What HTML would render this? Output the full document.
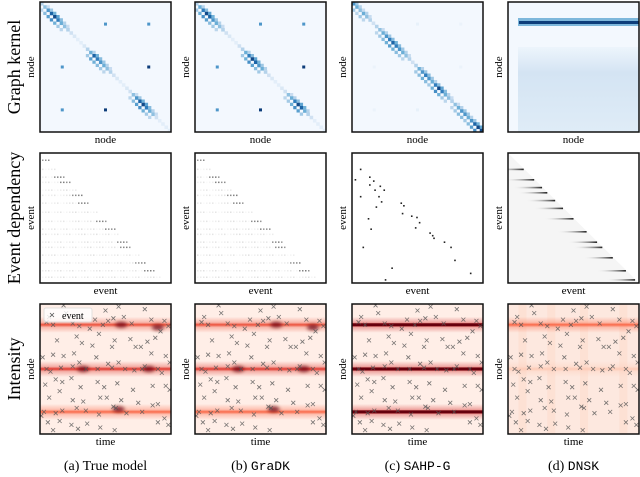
<!DOCTYPE html>
<html><head><meta charset="utf-8">
<style>
body{margin:0;background:#fff;width:640px;height:477px;overflow:hidden;font-family:"Liberation Serif",serif;}
svg{position:absolute;left:0;top:0}
</style></head>
<body>
<svg id="fig" width="640" height="477"></svg>
<script>
const colX=[40,195,352,508], rowY=[2,153,304], W=131, H=130;
const rowLabels=["Graph kernel","Event dependency","Intensity"];
const captions=[["(a) ","True model",false],["(b) ","GraDK",true],["(c) ","SAHP-G",true],["(d) ","DNSK",true]];
const diagTrue=[.3,.4,.6,.8,.9,.7,.5,.4,.3,.2,.15,.1,.1,.15,.3,.5,.8,.7,.6,.5,.4,.3,.2,.15,.1,.1,.15,.2,.4,.6,.8,.9,.7,.5,.4,.2,.1,.1,.1,.1];
const diagGradk=[.3,.5,.7,.9,.8,.6,.5,.4,.3,.2,.15,.1,.1,.2,.3,.5,.7,.9,.8,.6,.5,.3,.2,.15,.1,.1,.15,.2,.4,.5,.7,.9,.8,.5,.3,.2,.1,.1,.1,.1];
const diagSahp=[.6,.5,.4,.5,.4,.3,.2,.3,.4,.5,.6,.7,.8,.7,.6,.5,.4,.3,.2,.3,.5,.6,.7,.6,.5,.7,.9,.7,.5,.4,.3,.4,.5,.6,.6,.5,.6,.8,.9,.9];
const offDots=[[.17,.17],[.5,.17],[.83,.17],[.17,.5],[.5,.5],[.83,.5],[.17,.83],[.5,.83],[.83,.83]];
const offTrue=[0,.6,.6,.6,0,.95,.6,.95,0];
const offSahp=[0,.08,.06,.06,0,.06,.06,.08,0];
const depRows=[.05,.12,.18,.22,.28,.32,.38,.45,.52,.58,.62,.68,.72,.78,.84,.9,.95];
const depSahpPts=[[.06,.12],[.02,.2],[.13,.18],[.16,.21],[.21,.25],[.13,.24],[.17,.28],[.24,.28],[.06,.33],[.2,.33],[.22,.37],[.37,.38],[.39,.4],[.18,.41],[.38,.46],[.45,.48],[.49,.49],[.51,.53],[.48,.57],[.12,.5],[.14,.58],[.59,.61],[.61,.63],[.62,.65],[.7,.68],[.75,.72],[.08,.72],[.78,.82],[.3,.88],[.9,.92],[.25,.97]];
const dnskRows=[.12,.2,.26,.3,.36,.42,.5,.6,.68,.72,.8,.9,.97];
const bands=[.16,.5,.83];
const bandStr=[[.8,.9,.7],[.8,.9,.7],[1,1,1],[.7,.25,0]];
const hot=[[.62,.16],[.9,.18],[.33,.5],[.83,.5],[.6,.81]];
const events=[[.18,.01],[.5,.05],[.8,.04],[.6,.02],[.2,.07],[.07,.1],[.25,.15],[.42,.12],[.52,.13],[.56,.11],[.64,.1],[.85,.12],[.95,.13],[.98,.17],[.1,.16],[.05,.14],[.3,.17],[.38,.19],[.48,.16],[.7,.15],[.92,.21],[.88,.26],[.13,.28],[.28,.25],[.45,.23],[.32,.3],[.4,.32],[.57,.28],[.55,.33],[.69,.27],[.73,.33],[.77,.33],[.82,.29],[.02,.41],[.1,.39],[.18,.4],[.26,.38],[.3,.45],[.43,.41],[.52,.46],[.6,.45],[.85,.38],[.96,.4],[.99,.45],[.05,.5],[.08,.52],[.16,.49],[.25,.48],[.35,.5],[.44,.5],[.55,.49],[.65,.5],[.72,.51],[.78,.5],[.8,.48],[.9,.5],[.93,.53],[.12,.58],[.17,.6],[.24,.57],[.04,.62],[.31,.64],[.44,.6],[.49,.64],[.59,.61],[.71,.66],[.86,.63],[.96,.63],[.99,.66],[.15,.67],[.07,.72],[.25,.74],[.33,.75],[.46,.72],[.51,.72],[.62,.74],[.75,.76],[.86,.78],[.9,.77],[.03,.83],[.12,.84],[.17,.82],[.28,.8],[.35,.82],[.45,.85],[.56,.79],[.58,.8],[.66,.84],[.78,.83],[.95,.88],[.01,.86],[.06,.91],[.15,.9],[.24,.93],[.29,.96],[.36,.92],[.46,.95],[.57,.97],[.9,.91],[.98,.93],[.1,.97]];
const NS="http://www.w3.org/2000/svg", svg=document.getElementById('fig');
function el(t,a,p){const e=document.createElementNS(NS,t);for(const k in a)e.setAttribute(k,a[k]);(p||svg).appendChild(e);return e;}
function lerp(a,b,t){return a.map((v,i)=>Math.round(v+(b[i]-v)*t));}
function blue(v){const s=[[247,251,255],[198,219,239],[107,174,214],[33,113,181],[8,48,107]];v=Math.max(0,Math.min(1,v))*4;const i=Math.min(3,Math.floor(v));return 'rgb('+lerp(s[i],s[i+1],v-i)+')';}
function red(v){const s=[[255,245,240],[252,187,161],[251,106,74],[203,24,29],[103,0,13]];v=Math.max(0,Math.min(1,v))*4;const i=Math.min(3,Math.floor(v));return 'rgb('+lerp(s[i],s[i+1],v-i)+')';}
function gray(v){const c=Math.round(255-230*v);return `rgb(${c},${c},${c})`;}
const sx=(c,f)=>colX[c]+f*W, sy=(r,f)=>rowY[r]+f*H;
const defs=el('defs',{});
const blur=el('filter',{id:'blr',x:'-50%',y:'-50%',width:'200%',height:'200%'},defs);el('feGaussianBlur',{stdDeviation:1.8},blur);
rowLabels.forEach((t,r)=>{const y=rowY[r]+H/2;const e=el('text',{x:0,y:0,transform:`translate(20,${y}) rotate(-90)`,'text-anchor':'middle','font-size':18});e.textContent=t;
});
const ylab=["node","event","node"], xlab=["node","event","time"];
for(let c=0;c<4;c++){
 for(let r=0;r<3;r++){
  const g=el('g',{});
  
  const x0=colX[c],y0=rowY[r];
  el('clipPath',{id:`cp${r}${c}`},g);el('rect',{x:x0,y:y0,width:W,height:H},g.lastChild);
  const inner=el('g',{'clip-path':`url(#cp${r}${c})`},g);
  if(r===0){
   el('rect',{x:x0,y:y0,width:W,height:H,fill:blue(0.02)},inner);
   if(c<3){const d=[diagTrue,diagGradk,diagSahp][c],n=d.length,cs=W/n;
    d.forEach((v,i)=>{el('rect',{x:x0+i*cs,y:y0+i*cs*H/W,width:cs+.3,height:cs*H/W+.3,fill:blue(v)},inner);
     if(v>.3){el('rect',{x:x0+(i+1)*cs,y:y0+i*cs*H/W,width:cs,height:cs,fill:blue(v*.6)},inner);el('rect',{x:x0+(i-1)*cs,y:y0+(i+1)*cs*H/W,width:cs,height:cs,fill:blue(v*.7)},inner);}});
    const o=c===2?offSahp:offTrue;
    offDots.forEach((p,i)=>{if(o[i]>0)el('rect',{x:sx(c,p[0])-1.5,y:sy(r,p[1])-1.5,width:3,height:3,fill:blue(o[i])},inner);});
   }else{
    const lg=el('linearGradient',{id:'dnskk',x1:0,y1:0,x2:0,y2:1},inner);
    el('stop',{offset:0,'stop-color':blue(0.05)},lg);el('stop',{offset:.3,'stop-color':blue(0.18)},lg);el('stop',{offset:1,'stop-color':blue(0.12)},lg);
    el('rect',{x:x0+10,y:y0+45,width:W,height:85,fill:'url(#dnskk)'},inner);
    el('rect',{x:x0+10,y:y0+16,width:W,height:8,fill:blue(0.45)},inner);
    el('rect',{x:x0+11,y:y0+19,width:W,height:3,fill:blue(0.95)},inner);
   }
  }else if(r===1){
   el('rect',{x:x0,y:y0,width:W,height:H,fill:'#fff'},inner);
   if(c<2){depRows.forEach((f,i)=>{const y=sy(r,f);const len=f*W*0.95;
     for(let k=0;k<len;k+=3){const v=((k*7+i*13)%17)/17*0.12+(k>len-12&&i%3!==1?0.45:0.02);
      el('rect',{x:x0+2+k,y:y,width:1.5,height:1.5,fill:gray(v)},inner);}});}
   else if(c===2){depSahpPts.forEach(p=>el('rect',{x:sx(c,p[0]),y:sy(r,p[1]),width:1.6,height:1.6,fill:'#222'},inner));}
   else{ el('polygon',{points:`${x0},${y0} ${x0+W},${y0+H} ${x0},${y0+H}`,fill:'#f5f5f5'},inner);
    dnskRows.forEach(f=>{const y=sy(r,f),xe=x0+f*W;const gid='dg'+Math.round(f*100);
     const lg=el('linearGradient',{id:gid},inner);el('stop',{offset:0,'stop-color':'#fff','stop-opacity':0},lg);el('stop',{offset:1,'stop-color':'#222'},lg);
     el('rect',{x:xe-30,y:y,width:30,height:1.6,fill:`url(#${gid})`},inner);});}
  }else{
   el('rect',{x:x0,y:y0,width:W,height:H,fill:c===3?'#fde8df':red(0.03)},inner);
   if(c===3)[.08,.3,.55,.85].forEach(f=>el('rect',{x:sx(c,f),y:y0,width:8,height:H,fill:red(.12),opacity:.5},inner));
   bands.forEach((b,i)=>{const s=bandStr[c][i];if(s<=0)return;const id=`bg${c}${i}`;
    const lg=el('linearGradient',{id:id,x1:0,y1:0,x2:0,y2:1},inner);
    [[0,0],[.35,.35],[.5,1],[.65,.35],[1,0]].forEach(q=>el('stop',{offset:q[0],'stop-color':red(.72*s),'stop-opacity':q[1]},lg));
    el('rect',{x:x0,y:sy(r,b)-8,width:W,height:16,fill:`url(#${id})`},inner);});
   if(c<2)hot.forEach(h=>el('ellipse',{cx:sx(c,h[0]),cy:sy(r,h[1]),rx:6,ry:3,fill:red(1),opacity:.75,filter:'url(#blr)'},inner));
   if(c===2)bands.forEach(b=>el('rect',{x:x0,y:sy(r,b)-1.5,width:W,height:3,fill:red(1)},inner));
   events.forEach(p=>{const x=sx(c,p[0]),y=sy(r,p[1]);el('path',{d:`M${x-2},${y-2}L${x+2},${y+2}M${x-2},${y+2}L${x+2},${y-2}`,stroke:'#555','stroke-width':.8,opacity:.8},inner);});
   if(c===0){const lg=el('g',{},g);
    el('rect',{x:x0+4,y:y0+4,width:48,height:14,rx:2,fill:'#fff',opacity:.8,stroke:'#ddd'},lg);
    el('path',{d:`M${x0+10},${y0+9}L${x0+14},${y0+13}M${x0+10},${y0+13}L${x0+14},${y0+9}`,stroke:'#555','stroke-width':.8},lg);
    const t=el('text',{x:x0+22,y:y0+15,'font-size':10},lg);t.textContent='event';}
  }
  el('rect',{x:x0,y:y0,width:W,height:H,fill:'none',stroke:'#111','stroke-width':1.5},g);
  const yl=el('text',{transform:`translate(${x0-6},${y0+H/2}) rotate(-90)`,'text-anchor':'middle','font-size':11},g);yl.textContent=ylab[r];
  
  const xl=el('text',{x:x0+W/2,y:y0+H+11,'text-anchor':'middle','font-size':11},g);xl.textContent=xlab[r];
  
 }
 const cap=el('text',{x:colX[c]+W/2,y:470,'text-anchor':'middle','font-size':14});
 
 const t1=el('tspan',{},cap);t1.textContent=captions[c][0];
 const t2=el('tspan',captions[c][2]?{'font-family':'Liberation Mono, monospace','font-size':13}:{},cap);t2.textContent=captions[c][1];
}
</script>
</body></html>
